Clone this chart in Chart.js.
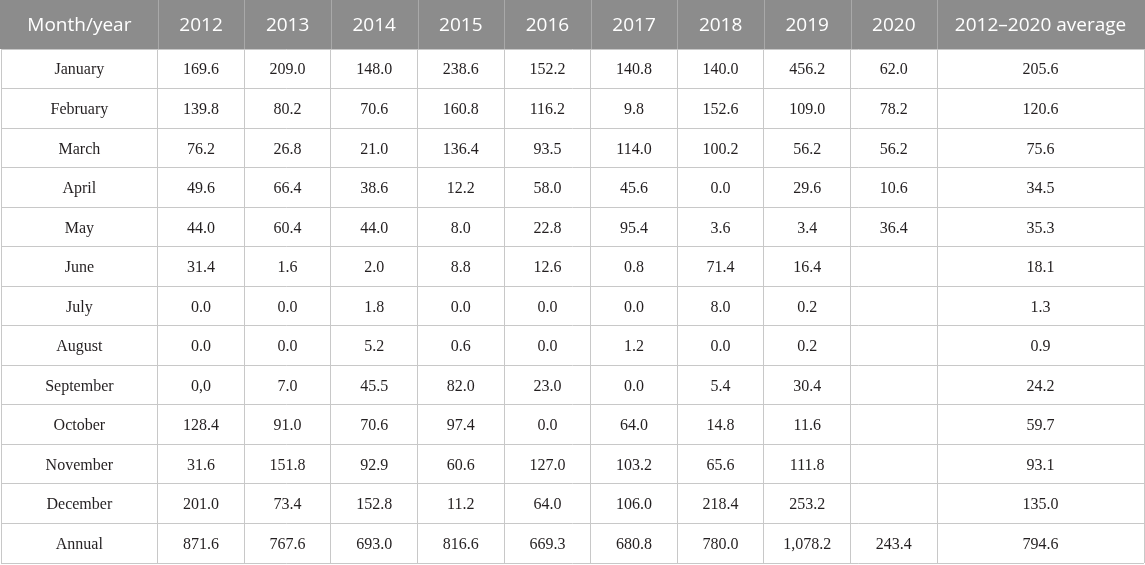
<!DOCTYPE html>
<html><head><meta charset="utf-8">
<script src="https://cdn.jsdelivr.net/npm/chart.js@4"></script>
<style>html,body{margin:0;padding:0;background:#fff;overflow:hidden}#wrap{width:1145px;height:565px;position:relative}</style>
</head><body><div id="wrap"><canvas id="c"></canvas></div>
<script>
// ---- data ----
const headerLabels = ['Month/year','2012','2013','2014','2015','2016','2017','2018','2019','2020','2012\u20132020 average'];
const rowLabels = ['January','February','March','April','May','June','July','August','September','October','November','December','Annual'];
const v2012 = ['169.6','139.8','76.2','49.6','44.0','31.4','0.0','0.0','0,0','128.4','31.6','201.0','871.6'];
const v2013 = ['209.0','80.2','26.8','66.4','60.4','1.6','0.0','0.0','7.0','91.0','151.8','73.4','767.6'];
const v2014 = ['148.0','70.6','21.0','38.6','44.0','2.0','1.8','5.2','45.5','70.6','92.9','152.8','693.0'];
const v2015 = ['238.6','160.8','136.4','12.2','8.0','8.8','0.0','0.6','82.0','97.4','60.6','11.2','816.6'];
const v2016 = ['152.2','116.2','93.5','58.0','22.8','12.6','0.0','0.0','23.0','0.0','127.0','64.0','669.3'];
const v2017 = ['140.8','9.8','114.0','45.6','95.4','0.8','0.0','1.2','0.0','64.0','103.2','106.0','680.8'];
const v2018 = ['140.0','152.6','100.2','0.0','3.6','71.4','8.0','0.0','5.4','14.8','65.6','218.4','780.0'];
const v2019 = ['456.2','109.0','56.2','29.6','3.4','16.4','0.2','0.2','30.4','11.6','111.8','253.2','1,078.2'];
const v2020 = ['62.0','78.2','56.2','10.6','36.4',null,null,null,null,null,null,null,'243.4'];
const vAvg  = ['205.6','120.6','75.6','34.5','35.3','18.1','1.3','0.9','24.2','59.7','93.1','135.0','794.6'];

// ---- layout ----
const colWidths = [157,86.75,86.75,86.75,86.75,86.75,86.75,86.75,86.75,86.75,207.25];
const edges = [0]; colWidths.forEach(w => edges.push(edges[edges.length-1] + w));
const centers = colWidths.map((w,i) => edges[i] + w/2);
const columnsText = [rowLabels, v2012, v2013, v2014, v2015, v2016, v2017, v2018, v2019, v2020, vAvg];

const datasets = columnsText.map((col, ci) => ({
  label: headerLabels[ci],
  data: col.map((t, ri) => t === null ? null : ({x: centers[ci], y: rowLabels[ri], t: t})).filter(p => p),
  pointRadius: 0, pointHoverRadius: 0, showLine: false
}));

const tablePlugin = {
  id: 'tableText',
  beforeDraw(chart) {
    const ctx = chart.ctx, ca = chart.chartArea, xs = chart.scales.x;
    ctx.save();
    ctx.fillStyle = '#fff';
    ctx.fillRect(0, 0, chart.width, chart.height);
    ctx.fillStyle = '#8c8c8c';
    ctx.fillRect(0, 0, chart.width, ca.top);
    ctx.strokeStyle = '#a9a9a9';
    ctx.lineWidth = 1;
    edges.slice(1, -1).forEach(e => {
      const px = Math.round(xs.getPixelForValue(e)) + 0.5;
      ctx.beginPath(); ctx.moveTo(px, 0); ctx.lineTo(px, ca.top); ctx.stroke();
    });
    ctx.fillStyle = '#ffffff';
    ctx.font = '19px "Open Sans", "Noto Sans", sans-serif';
    ctx.textAlign = 'center';
    ctx.textBaseline = 'middle';
    headerLabels.forEach((h, i) => {
      ctx.fillText(h, xs.getPixelForValue(centers[i]), ca.top / 2 + 1);
    });
    ctx.restore();
  },
  afterDatasetsDraw(chart) {
    const ctx = chart.ctx;
    ctx.save();
    ctx.fillStyle = '#231f20';
    ctx.font = '16px "Liberation Serif", "DejaVu Serif", serif';
    ctx.textAlign = 'center';
    ctx.textBaseline = 'middle';
    chart.data.datasets.forEach((ds, di) => {
      const meta = chart.getDatasetMeta(di);
      meta.data.forEach((pt, j) => {
        ctx.fillText(ds.data[j].t, pt.x, pt.y + 1.5);
      });
    });
    ctx.restore();
  }
};

new Chart(document.getElementById('c'), {
  type: 'scatter',
  data: { datasets },
  options: {
    responsive: true,
    maintainAspectRatio: false,
    animation: false,
    events: [],
    layout: { padding: { top: 49, left: 1, right: 1, bottom: 2 } },
    plugins: { legend: { display: false }, tooltip: { enabled: false } },
    scales: {
      x: {
        type: 'linear', min: 0, max: edges[edges.length-1],
        afterBuildTicks: s => { s.ticks = edges.map(v => ({value: v})); },
        ticks: { display: false },
        grid: { color: '#c8c8c8', lineWidth: 1, drawTicks: false },
        border: { display: false }
      },
      y: {
        type: 'category', labels: rowLabels, offset: true,
        ticks: { display: false },
        grid: { color: '#c8c8c8', lineWidth: 1, drawTicks: false, offset: true },
        border: { display: false }
      }
    }
  },
  plugins: [tablePlugin]
});
</script></body></html>
